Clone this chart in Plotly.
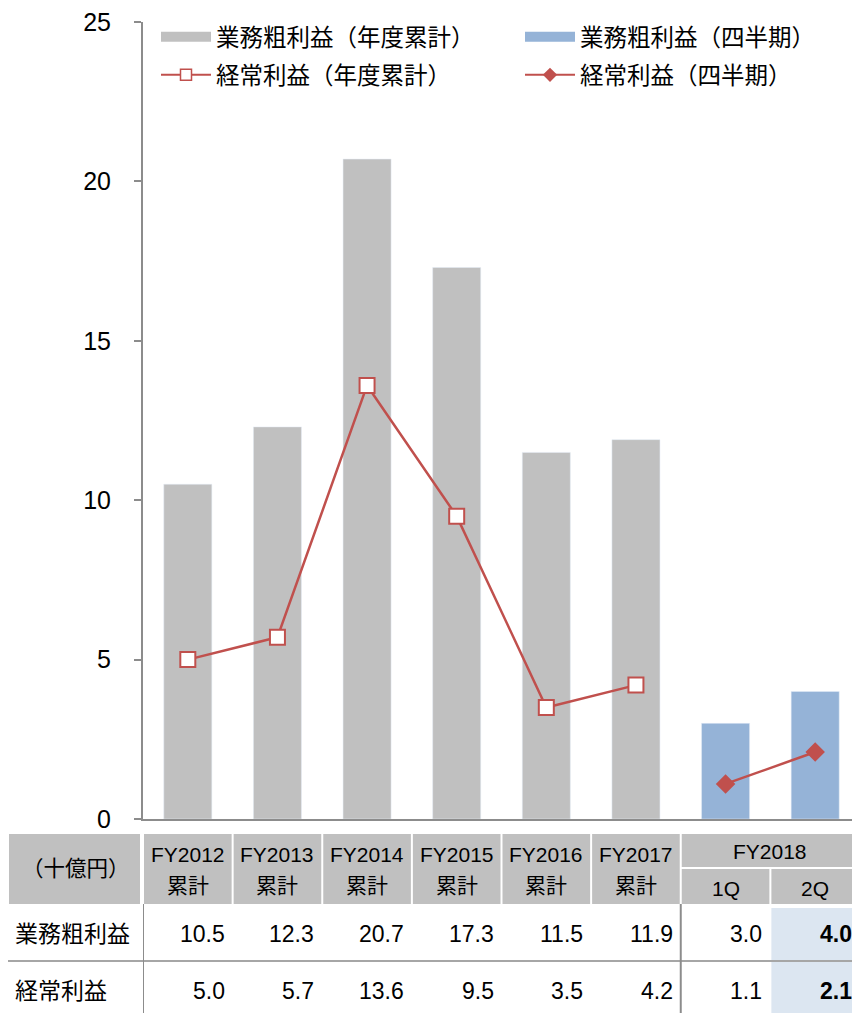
import plotly.graph_objects as go

# ---------------- data ----------------
years = ["FY2012", "FY2013", "FY2014", "FY2015", "FY2016", "FY2017"]
annual_suffix = "累計"
fy_quarter = "FY2018"
quarters = ["1Q", "2Q"]
gross_annual = [10.5, 12.3, 20.7, 17.3, 11.5, 11.9]
gross_quarter = [3.0, 4.0]
ordinary_annual = [5.0, 5.7, 13.6, 9.5, 3.5, 4.2]
ordinary_quarter = [1.1, 2.1]
row_labels = ["業務粗利益", "経常利益"]
unit_label = "（十億円）"
legend_names = ["業務粗利益（年度累計）", "業務粗利益（四半期）",
                "経常利益（年度累計）", "経常利益（四半期）"]
y_ticks = [0, 5, 10, 15, 20, 25]

# ---------------- styles ----------------
FONT = "Liberation Sans, Arial, Noto Sans CJK JP, sans-serif"
GRAY = "#c0c0c0"
BLUE = "#95b3d7"
RED = "#c0504d"
AXIS = "#8c8c8c"
CELL_BLUE = "#dce6f1"

OFF = 8  # page body margin
W, H = 852, 1005
L, R, T, B = 135, 0, 14, 194
PW = W - L - R
PH = H - T - B
NCAT = len(years) + len(quarters)
SLOT = PW / NCAT

def py(p):  # screen pixel y -> paper y
    return (H - B - (p - OFF)) / PH

def px(p):  # screen pixel x -> paper x
    return (p - OFF - L) / PW

xa = list(range(len(years)))
xq = [len(years) + i for i in range(len(quarters))]

fig = go.Figure()

# bars
fig.add_trace(go.Bar(x=xa, y=gross_annual, marker_color=GRAY, width=0.536,
                     showlegend=False, hoverinfo="skip"))
fig.add_trace(go.Bar(x=xq, y=gross_quarter, marker_color=BLUE, width=0.536,
                     showlegend=False, hoverinfo="skip"))
# lines
fig.add_trace(go.Scatter(x=xa, y=ordinary_annual, mode="lines+markers",
                         line=dict(color=RED, width=2.5),
                         marker=dict(symbol="square", size=15, color="white",
                                     line=dict(color=RED, width=2)),
                         showlegend=False, hoverinfo="skip"))
fig.add_trace(go.Scatter(x=xq, y=ordinary_quarter, mode="lines+markers",
                         line=dict(color=RED, width=2.5),
                         marker=dict(symbol="diamond", size=15, color=RED,
                                     line=dict(color=RED, width=0)),
                         showlegend=False, hoverinfo="skip"))

# legend entries (one legend per entry for exact placement)
leg_styles = [
    dict(mode="lines", line=dict(color=GRAY, width=10)),
    dict(mode="lines", line=dict(color=BLUE, width=10)),
    dict(mode="lines+markers", line=dict(color=RED, width=2),
         marker=dict(symbol="square", size=11, color="white", line=dict(color=RED, width=1.5))),
    dict(mode="lines+markers", line=dict(color=RED, width=2),
         marker=dict(symbol="diamond", size=11, color=RED)),
]
leg_pos = [(156, 37), (520, 37), (156, 75), (520, 75)]
leg_ids = ["legend", "legend2", "legend3", "legend4"]
for name, st, lid in zip(legend_names, leg_styles, leg_ids):
    fig.add_trace(go.Scatter(x=[None], y=[None], name=name, legend=lid, **st))

shapes = []
ann = []

def rect(x0, x1, y0, y1, color, xref="x"):
    shapes.append(dict(type="rect", xref=xref, yref="paper", x0=x0, x1=x1,
                       y0=py(y1), y1=py(y0), fillcolor=color, line=dict(width=0),
                       layer="below"))

def text(x, y, s, size, xanchor="center", xref="x", bold=False):
    ann.append(dict(x=x, y=py(y), xref=xref, yref="paper",
                    text=("<b>%s</b>" % s) if bold else s,
                    showarrow=False, xanchor=xanchor, yanchor="middle",
                    font=dict(family=FONT, size=size, color="black")))

g = 1.0 / SLOT  # ~1px in data units
# header cells
rect(px(9), px(140), 834, 904, GRAY, xref="paper")
text(px(76), 869, unit_label, 21.5, xref="paper")
for i, yr in enumerate(years):
    rect(i - 0.5 + g, i + 0.5 - g, 834, 904, GRAY)
    text(i, 855, yr, 21)
    text(i, 885, annual_suffix, 21)
rect(xq[0] - 0.5 + g, xq[-1] + 0.6, 834, 867, GRAY)
text((xq[0] + xq[-1]) / 2, 851, fy_quarter, 21)
for j, q in enumerate(quarters):
    rect(xq[j] - 0.5 + g, xq[j] + (0.6 if j == len(quarters) - 1 else 0.5 - g), 869, 904, GRAY)
    text(xq[j], 888, q, 21)

# highlighted last quarter cells
rect(xq[-1] - 0.5 + g, xq[-1] + 0.6, 908, H + OFF, CELL_BLUE)

# data rows
rows_y = [934, 991]
rows_vals = [gross_annual + gross_quarter, ordinary_annual + ordinary_quarter]
for r, (lab, vals) in enumerate(zip(row_labels, rows_vals)):
    text(px(13), rows_y[r], lab, 23, xanchor="left", xref="paper")
    for i, v in enumerate(vals):
        text(i + 0.5 - 6 / SLOT, rows_y[r], "%.1f" % v, 23, xanchor="right",
             bold=(i == NCAT - 1))

# table lines
shapes.append(dict(type="line", xref="paper", yref="paper", x0=px(0), x1=px(W + OFF + 5),
                   y0=py(961), y1=py(961), line=dict(color="#a6a6a6", width=2)))
for xl in [-0.5, xq[0] - 0.5]:
    shapes.append(dict(type="line", xref="x", yref="paper", x0=xl, x1=xl,
                       y0=py(904), y1=py(H + OFF), line=dict(color=AXIS, width=2)))

legend_layout = {}
for lid, (lx, ly) in zip(leg_ids, leg_pos):
    legend_layout[lid] = dict(orientation="h", x=px(lx), y=py(ly), xanchor="left",
                              yanchor="middle", itemwidth=50,
                              font=dict(family=FONT, size=23.5, color="black"),
                              bgcolor="rgba(0,0,0,0)")

fig.update_layout(
    width=W, height=H,
    margin=dict(l=L, r=R, t=T, b=B),
    plot_bgcolor="white", paper_bgcolor="white",
    font=dict(family=FONT, size=20, color="black"),
    barmode="overlay",
    xaxis=dict(range=[-0.5, NCAT - 0.5], showticklabels=False, ticks="",
               showgrid=False, zeroline=False, showline=True,
               linecolor=AXIS, linewidth=2, fixedrange=True),
    yaxis=dict(range=[0, 25], tickvals=y_ticks, ticks="outside", ticklen=7,
               tickcolor=AXIS, tickwidth=1.5, showgrid=False, zeroline=False,
               showline=True, linecolor=AXIS, linewidth=2,
               tickfont=dict(family=FONT, size=25, color="black"),
               ticklabelstandoff=18, ticklabeloverflow="allow"),
    shapes=shapes,
    annotations=ann,
    **legend_layout,
)

fig.write_html("out.html")
